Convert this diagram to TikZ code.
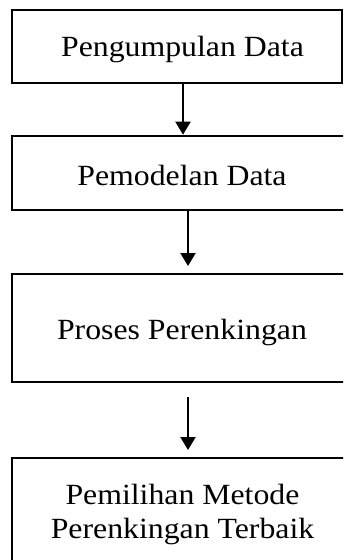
\documentclass[tikz,border=0pt]{standalone}
\usepackage{fontspec}
\setmainfont[FakeStretch=1.085]{Liberation Serif}
\usetikzlibrary{arrows.meta}
\tikzset{
  stagebox/.style={draw=black, line width=2pt, rectangle, inner sep=0pt},
  stagetext/.style={font=\fontsize{29.3}{34.5}\selectfont, inner sep=0pt, align=center},
  flow/.style={draw=black, line width=2pt, -{Triangle[length=13pt,width=15pt]}}
}
\begin{document}
\begin{tikzpicture}[x=1pt, y=-1pt]
  \useasboundingbox (0,0) rectangle (343,560);
  \clip (0,0) rectangle (343,560);

  % stage boxes
  \node[stagebox, minimum width=330pt, minimum height=73pt] (b1) at (177,46.5) {};
  \node[stagebox, minimum width=341pt, minimum height=74.3pt] (b2) at (182.5,172.85) {};
  \node[stagebox, minimum width=341pt, minimum height=108pt] (b3) at (182.5,328) {};
  \node[stagebox, minimum width=341pt, minimum height=142pt] (b4) at (182.5,529) {};

  % stage labels
  \node[stagetext, anchor=base] (t1) at (182.5,56.7) {Pengumpulan Data};
  \node[stagetext, anchor=base] (t2) at (182,185) {Pemodelan Data};
  \node[stagetext, anchor=base] (t3) at (182,339.3) {Proses Perenkingan};
  \node[stagetext, anchor=base] (t4a) at (182.5,504) {Pemilihan Metode};
  \node[stagetext, anchor=base] (t4b) at (182.5,538) {Perenkingan Terbaik};

  % connectors
  \draw[flow] ([xshift=6pt]b1.south) -- ([xshift=6pt]b1.south |- b2.north);
  \draw[flow, shorten >=7pt] ([xshift=5.5pt]b2.south) -- ([xshift=5.5pt]b2.south |- b3.north);
  \draw[flow, shorten <=14pt, shorten >=7pt] ([xshift=5.5pt]b3.south) -- ([xshift=5.5pt]b3.south |- b4.north);
\end{tikzpicture}
\end{document}
